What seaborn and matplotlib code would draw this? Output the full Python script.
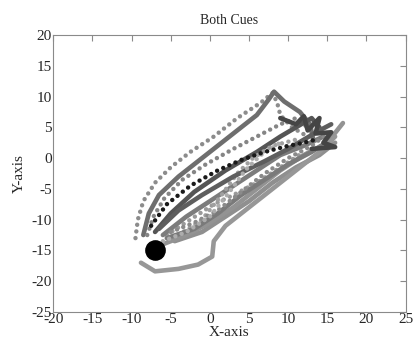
import pandas as pd
import seaborn as sns
import matplotlib.pyplot as plt

# Trajectory waypoints (x, y in axis units)
traj_a_x = [-9.5, -9.2, -8.5, -7, -5, -2.5, 0.5, 3.5, 6.5, 8, 8.6, 9, 10.5, 12.5]
traj_a_y = [-13, -10, -7, -4, -1.5, 1, 3.5, 6.5, 9, 10.6, 9, 7, 5, 3.5]
traj_b_x = [-8.5, -7.8, -6.5, -4, -0.5, 3, 6, 7.5, 8.2, 9.5, 11.5, 12.8, 13.2]
traj_b_y = [-12.5, -9, -6, -3, 0.5, 4, 7, 9.5, 10.8, 9.2, 7.5, 5.5, 3]
traj_c_x = [-8, -7.2, -5.8, -3.5, -0.5, 3, 6, 9, 11, 12.5]
traj_c_y = [-12.5, -9.5, -6.5, -3.5, -1, 1.5, 3.5, 5.5, 6.5, 5]
traj_d_x = [-7.5, -5.5, -2.5, 1, 4, 7, 10, 12, 13.5]
traj_d_y = [-11, -7.5, -4.5, -2, -0.3, 1, 2, 2.5, 3]
traj_e_x = [-7, -5, -2, 2, 6, 9, 11, 13, 14]
traj_e_y = [-12, -9, -5.5, -2, 1, 3.5, 5, 6.5, 5]
traj_f_x = [-4, -1, 1.5, 3.5, 5.5, 8, 11]
traj_f_y = [-12.5, -10, -6, -2.5, 0, 2, 3]
traj_g_x = [-6, -3, 0, 3, 6, 9, 12, 15, 17]
traj_g_y = [-14, -12.5, -10.5, -8, -5, -2, 0.5, 2.5, 5.7]
traj_h_x = [-5.5, -2, 1, 4, 7, 10, 13, 15.5]
traj_h_y = [-13, -11.5, -9, -6, -3.5, -1, 1, 3]
traj_i_x = [-8.8, -7, -4, -1.5, 0.3, 0.5, 2, 5, 8, 11, 14, 16]
traj_i_y = [-17, -18.4, -18, -17.3, -16, -13.5, -11, -8, -5, -2, 1, 3.5]
traj_j_x = [-5, -2, 1, 4, 7, 10, 13, 15]
traj_j_y = [-12, -10.5, -8.5, -5.5, -2.5, 0, 2, 4]
traj_k_x = [-6.5, -4, -1, 3, 7, 10, 12, 14, 15.5]
traj_k_y = [-11.5, -8.5, -6, -3, -0.5, 1.5, 3, 4.5, 5.5]
traj_l_x = [-6, -3, 0, 2.5, 4.5, 6.5, 9]
traj_l_y = [-13.5, -12, -9.5, -5.5, -2, 0.5, 2.5]
traj_m_x = [9, 11, 12, 12.5, 14, 13.5, 15.5, 14.5, 16, 13]
traj_m_y = [6.5, 5.5, 6.8, 4.5, 6.5, 4, 4.2, 2.5, 1.8, 1.5]
traj_n_x = [-4.5, -1, 2, 5, 8, 11, 14, 16]
traj_n_y = [-13.5, -12, -9.5, -7, -4, -1.5, 0.5, 2.5]
traj_o_x = [-5.5, -2.5, 0.5, 3, 6, 9, 12]
traj_o_y = [-12.5, -10, -7.5, -6, -4, -1.5, 1]
traj_p_x = [-6, -3, 0, 3, 6, 9, 12, 14.5]
traj_p_y = [-12.5, -9.5, -7, -4.5, -2, 0.5, 2, 3.5]

start_x = [-7]
start_y = [-15]

trajectories = [
    (traj_n_x, traj_n_y, "#8f8f8f", "solid"),
    (traj_o_x, traj_o_y, "#9a9a9a", "dot"),
    (traj_p_x, traj_p_y, "#7c7c7c", "solid"),
    (traj_a_x, traj_a_y, "#8c8c8c", "dot"),
    (traj_b_x, traj_b_y, "#6e6e6e", "solid"),
    (traj_c_x, traj_c_y, "#858585", "dot"),
    (traj_e_x, traj_e_y, "#555555", "solid"),
    (traj_f_x, traj_f_y, "#a0a0a0", "dot"),
    (traj_g_x, traj_g_y, "#939393", "solid"),
    (traj_h_x, traj_h_y, "#7a7a7a", "solid"),
    (traj_i_x, traj_i_y, "#979797", "solid"),
    (traj_j_x, traj_j_y, "#8a8a8a", "dot"),
    (traj_k_x, traj_k_y, "#5e5e5e", "solid"),
    (traj_l_x, traj_l_y, "#adadad", "dot"),
    (traj_m_x, traj_m_y, "#454545", "solid"),
    (traj_d_x, traj_d_y, "#1a1a1a", "dot"),
]

sns.set_style("white")
plt.rcParams["font.family"] = ["Liberation Serif", "DejaVu Serif"]
plt.rcParams["font.size"] = 10
plt.rcParams["axes.unicode_minus"] = False

fig = plt.figure(figsize=(4.13, 3.47), dpi=100)
ax = fig.add_axes([0.129, 0.101, 0.853, 0.798])

for xs, ys, color, style in trajectories:
    df = pd.DataFrame({"x": xs, "y": ys})
    if style == "dot":
        sns.lineplot(data=df, x="x", y="y", sort=False, estimator=None, ax=ax,
                     color=color, linewidth=3.2, linestyle=(0, (0.01, 1.5)),
                     dash_capstyle="round")
    else:
        sns.lineplot(data=df, x="x", y="y", sort=False, estimator=None, ax=ax,
                     color=color, linewidth=3.3, solid_capstyle="round",
                     solid_joinstyle="round")

sns.scatterplot(x=start_x, y=start_y, color="black", s=190, ax=ax, zorder=5,
                edgecolor="black")

ax.set_xlim(-20, 25)
ax.set_ylim(-25, 20)
ax.set_xticks(range(-20, 26, 5))
ax.set_yticks(range(-25, 21, 5))
ax.set_title("Both Cues", fontsize=10, pad=8)
ax.set_xlabel("X-axis", fontsize=11, labelpad=0)
ax.set_ylabel("Y-axis", fontsize=11, labelpad=4)

for spine in ax.spines.values():
    spine.set_color("#8a8a8a")
    spine.set_linewidth(0.8)
ax.tick_params(direction="in", length=4, width=0.8, color="#8a8a8a",
               top=True, right=True, labelsize=11, pad=1)

plt.savefig("out.png", dpi=100)
